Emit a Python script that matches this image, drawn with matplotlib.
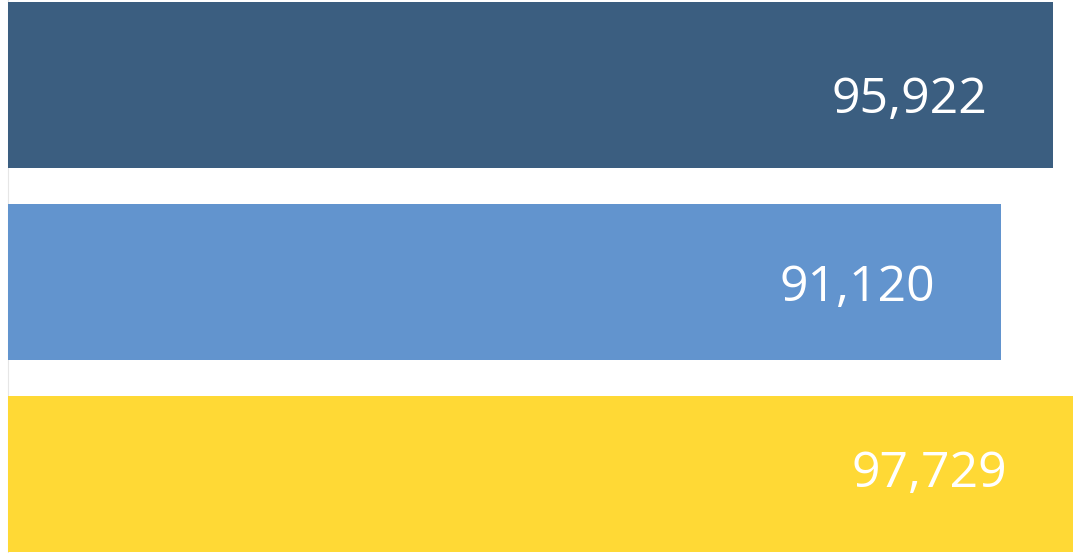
import matplotlib.pyplot as plt

# values, top to bottom
categories = ['A', 'B', 'C']
values = [95922, 91120, 97729]
labels = ['95,922', '91,120', '97,729']
colors = ['#3b5e80', '#6294ce', '#ffd935']

plt.rcParams['font.family'] = ['Open Sans', 'DejaVu Sans']

fig = plt.figure(figsize=(10.76, 5.53), dpi=100)
ax = fig.add_axes([0, 0, 1, 1])

# bar centres: bottom bar at 0, one unit = 192 px
heights = [166 / 192, 156 / 192, 156 / 192]
centres = [2 + 4.5 / 192, 1, 0]

ax.barh(centres, values, height=heights, color=colors, left=0)

# label placement (pixel nudges)
dy = [-15, -7, -1]
for c, v, lab, d in zip(centres, values, labels, dy):
    ax.annotate(lab, xy=(v, c), xytext=(-66 * 0.72, d * 0.72),
                textcoords='offset points', ha='right', va='center',
                color='white', fontsize=36)

ax.set_xlim(-8 * 97729 / 1065, 97729 * (1076 - 8) / 1065)
ax.set_ylim(-79.5 / 192, (553 - 79.5) / 192)
ax.axvline(0, color='#e6e6e6', lw=0.8, zorder=0)
ax.axis('off')

fig.savefig('out.png', dpi=100)
